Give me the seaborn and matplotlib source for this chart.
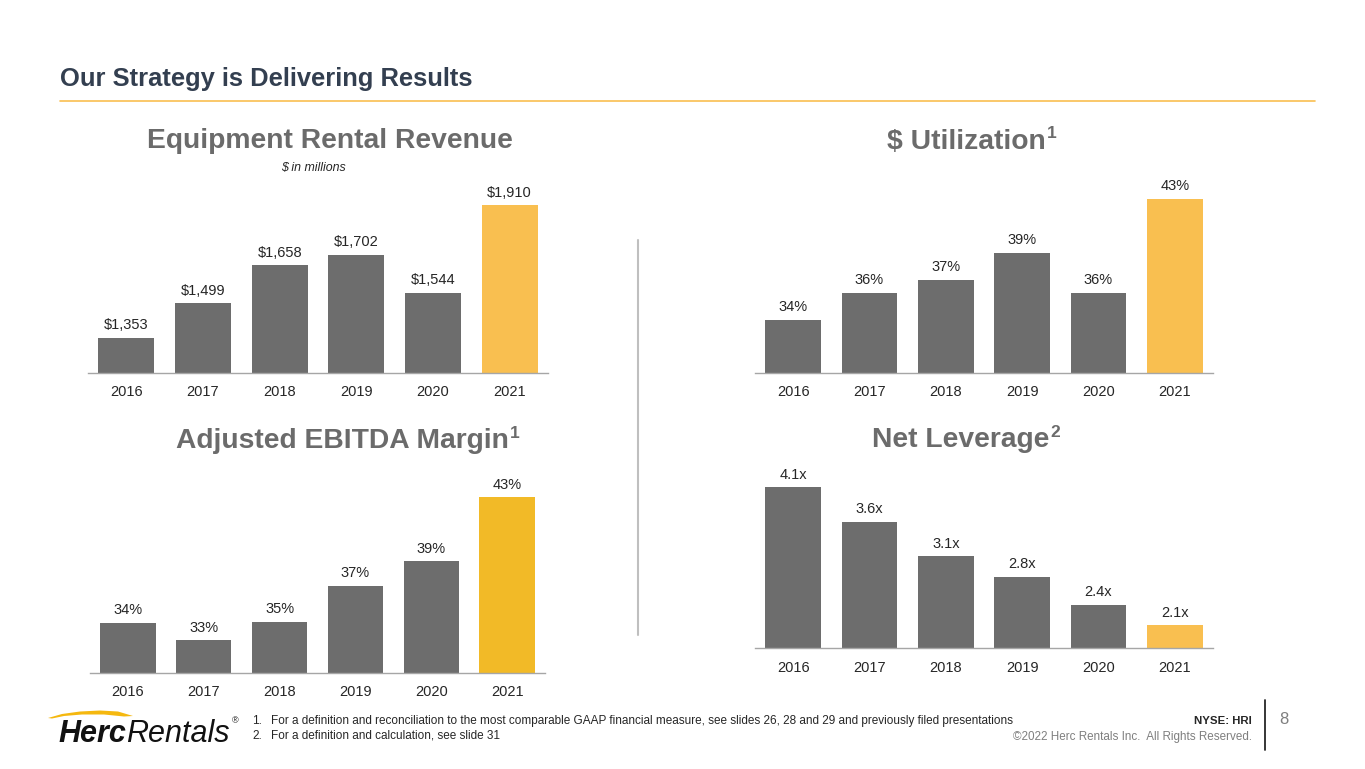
import matplotlib
matplotlib.use("Agg")
import matplotlib.pyplot as plt
import seaborn as sns
from matplotlib.patches import Polygon
from matplotlib.lines import Line2D

# data
years = ["2016", "2017", "2018", "2019", "2020", "2021"]

revenue = [1353, 1499, 1658, 1702, 1544, 1910]
revenue_labels = ["$1,353", "$1,499", "$1,658", "$1,702", "$1,544", "$1,910"]

utilization = [34, 36, 37, 39, 36, 43]
utilization_labels = ["34%", "36%", "37%", "39%", "36%", "43%"]

# unrounded margins (bar heights), labels are the rounded figures shown
ebitda_margin = [34.2, 33.0, 34.3, 36.8, 38.5, 43.0]
ebitda_labels = ["34%", "33%", "35%", "37%", "39%", "43%"]

net_leverage = [4.1, 3.6, 3.1, 2.8, 2.4, 2.1]
leverage_labels = ["4.1x", "3.6x", "3.1x", "2.8x", "2.4x", "2.1x"]

GRAY = "#6d6d6d"
GOLD = "#f9bf50"
GOLD2 = "#f2ba27"
TITLE_GRAY = "#6b6b6b"
NAVY = "#333f50"
FONT = "Liberation Sans"

W, H = 1365, 769
sns.set_theme(style="white")
plt.rcParams["font.family"] = [FONT, "DejaVu Sans"]

fig = plt.figure(figsize=(W / 100, H / 100), dpi=100)
fig.patch.set_facecolor("white")


def px_axes(left, right, top, bottom):
    return fig.add_axes([left / W, 1 - bottom / H, (right - left) / W, (bottom - top) / H])


def bar_panel(rect, values, labels, ymin, ymax, hi_color):
    ax = px_axes(*rect)
    colors = [GRAY] * (len(years) - 1) + [hi_color]
    sns.barplot(x=years, y=values, hue=years, palette=colors, legend=False,
                width=0.73, linewidth=0, saturation=1, ax=ax)
    ax.set_ylim(ymin, ymax)
    ax.set_xlim(-0.5, len(years) - 0.5)
    for i, (v, lab) in enumerate(zip(values, labels)):
        ax.annotate(lab, (i, v), xytext=(0, 4), textcoords="offset points",
                    ha="center", va="bottom", fontsize=10.5, color="#262626",
                    annotation_clip=False)
    for s in ["top", "right", "left"]:
        ax.spines[s].set_visible(False)
    ax.spines["bottom"].set_color("#a6a6a6")
    ax.spines["bottom"].set_linewidth(1)
    ax.set_yticks([])
    ax.set_xlabel("")
    ax.set_ylabel("")
    ax.tick_params(axis="x", length=0, pad=9, labelsize=10.5, labelcolor="#262626")
    ax.set_facecolor("none")
    return ax


bar_panel((88, 548, 190, 373), revenue, revenue_labels, 1206, 1975, GOLD)
bar_panel((755, 1213, 190, 373), utilization, utilization_labels, 30.04, 43.67, GOLD)
bar_panel((90, 545, 480, 673), ebitda_margin, ebitda_labels, 30.7, 44.2, GOLD2)
bar_panel((755, 1213, 470, 648), net_leverage, leverage_labels, 1.77, 4.35, GOLD)

renderer = fig.canvas.get_renderer()


def panel_title(xc, ybase, text, sup=None):
    t = fig.text(xc / W, 1 - ybase / H, text, ha="center", va="baseline",
                 fontsize=20.3, fontweight="bold", color=TITLE_GRAY)
    if sup:
        bb = t.get_window_extent(renderer)
        fig.text(bb.x1 / W + 1 / W, (1 - ybase / H) + 22 / H, sup, ha="left", va="top",
                 fontsize=12.5, fontweight="bold", color=TITLE_GRAY)


panel_title(330, 148.5, "Equipment Rental Revenue")
panel_title(966, 148.5, "$ Utilization", "1")
panel_title(342, 448, "Adjusted EBITDA Margin", "1")
panel_title(961, 447, "Net Leverage", "2")

fig.text(313 / W, 1 - 168 / H, "$ in millions", ha="center", va="center",
         fontsize=8.9, style="italic", color="#262626")

# slide header
fig.text(60 / W, 1 - 86 / H, "Our Strategy is Delivering Results", ha="left", va="baseline",
         fontsize=18.4, fontweight="bold", color=NAVY)
fig.add_artist(Line2D([60 / W, 1315 / W], [1 - 101 / H, 1 - 101 / H], color="#f9bf50", lw=1.2))

# divider between columns
fig.add_artist(Line2D([638 / W, 638 / W], [1 - 240 / H, 1 - 635 / H], color="#bfbfbf", lw=1.5))

# footer: logo
swoosh = [(48, 718), (62, 714), (80, 711.5), (100, 710.5), (118, 711.5), (133, 716),
          (124, 716.5), (104, 714.5), (82, 714.5), (64, 716), (52, 718.5)]
fig.add_artist(Polygon([(x / W, 1 - y / H) for x, y in swoosh], closed=True,
                       facecolor="#f5b80f", edgecolor="none"))
herc = fig.text(58 / W, 1 - 742 / H, "Herc", ha="left", va="baseline", fontsize=22,
                fontweight="bold", style="italic", color="#111111")
bb = herc.get_window_extent(renderer)
rent = fig.text(bb.x1 / W, 1 - 742 / H, "Rentals", ha="left", va="baseline", fontsize=22,
                style="italic", color="#111111")
bb = rent.get_window_extent(renderer)
fig.text(bb.x1 / W + 2 / W, 1 - 721 / H, "®", ha="left", va="center", fontsize=6.5, color="#111111")

# footer: footnotes
FN = 8.5
fig.text(252 / W, 1 - 721 / H, "1.", ha="left", va="center", fontsize=FN, color="#262626")
fig.text(271 / W, 1 - 721 / H,
         "For a definition and reconciliation to the most comparable GAAP financial measure, "
         "see slides 26, 28 and 29 and previously filed presentations",
         ha="left", va="center", fontsize=FN, color="#262626")
fig.text(252 / W, 1 - 736 / H, "2.", ha="left", va="center", fontsize=FN, color="#262626")
fig.text(271 / W, 1 - 736 / H, "For a definition and calculation, see slide 31",
         ha="left", va="center", fontsize=FN, color="#262626")

# footer: right side
fig.text(1252 / W, 1 - 721 / H, "NYSE: HRI", ha="right", va="center", fontsize=8.2,
         fontweight="bold", color="#262626")
fig.text(1252 / W, 1 - 737 / H, "\u00a92022 Herc Rentals Inc.  All Rights Reserved.",
         ha="right", va="center", fontsize=8.4, color="#7f7f7f")
fig.add_artist(Line2D([1265 / W, 1265 / W], [1 - 700 / H, 1 - 750 / H], color="#262626", lw=1.3))
fig.text(1284 / W, 1 - 720 / H, "8", ha="center", va="center", fontsize=12, color="#7f7f7f")

fig.savefig("out.png", dpi=100, facecolor="white")
